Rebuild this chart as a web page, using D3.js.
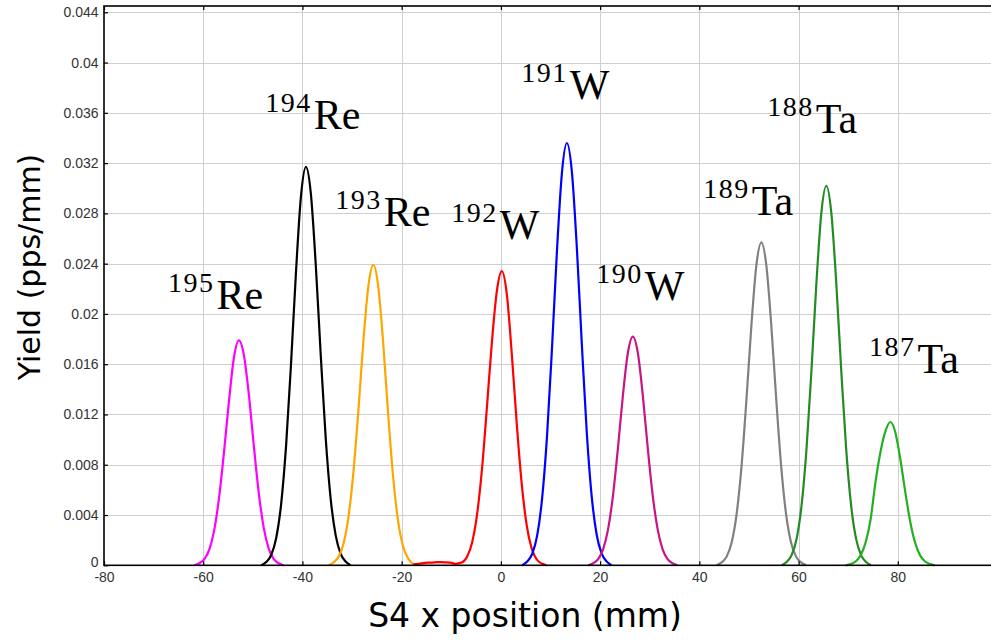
<!DOCTYPE html>
<html>
<head>
<meta charset="utf-8">
<script src="https://cdn.jsdelivr.net/npm/d3@7"></script>
<style>
  html, body { margin: 0; padding: 0; background: #fff; }
  svg { display: block; }
</style>
</head>
<body>
<script>
// ---- axis ticks ----
const xTickValues = [-80, -60, -40, -20, 0, 20, 40, 60, 80];
const xTickLabels = ["-80", "-60", "-40", "-20", "0", "20", "40", "60", "80"];
const yTickValues = [0, 0.004, 0.008, 0.012, 0.016, 0.02, 0.024, 0.028, 0.032, 0.036, 0.04, 0.044];
const yTickLabels = ["0", "0.004", "0.008", "0.012", "0.016", "0.02", "0.024", "0.028", "0.032", "0.036", "0.04", "0.044"];

// ---- isotope labels (mass number + element) and their anchors in data units ----
const massNumbers = ["195", "194", "193", "192", "191", "190", "189", "188", "187"];
const elementSymbols = ["Re", "Re", "Re", "W", "W", "W", "Ta", "Ta", "Ta"];
const labelAnchorX = [-67.1, -47.5, -33.4, -10.0, 4.1, 19.2, 40.8, 53.7, 74.2];
const labelAnchorY = [0.0204, 0.0347, 0.0270, 0.0260, 0.0371, 0.0211, 0.0279, 0.0344, 0.0153];

// ---- yield distributions along the S4 x position ----
const re195X = [-61.8, -60.8, -59.8, -58.8, -57.8, -56.8, -55.8, -54.8, -53.8, -52.8, -51.8, -50.8, -49.8, -48.8, -47.8, -46.8, -45.8, -44.8, -43.8];
const re195Y = [0, 0.00016, 0.00047, 0.00122, 0.00276, 0.00541, 0.00905, 0.0131, 0.01655, 0.0179, 0.01672, 0.01358, 0.00952, 0.00574, 0.00298, 0.00133, 0.00051, 0.00016, 0];

const re194X = [-48.3, -47.3, -46.3, -45.3, -44.3, -43.3, -42.3, -41.3, -40.3, -39.3, -38.3, -37.3, -36.3, -35.3, -34.3, -33.3, -32.3, -31.3, -30.3];
const re194Y = [0, 0.00026, 0.00082, 0.00215, 0.00485, 0.0095, 0.01605, 0.02335, 0.02935, 0.0317, 0.02955, 0.0238, 0.01665, 0.01005, 0.00525, 0.00238, 0.00092, 0.0003, 0];

const re193X = [-34.7, -33.7, -32.7, -31.7, -30.7, -29.7, -28.7, -27.7, -26.7, -25.7, -24.7, -23.7, -22.7, -21.7, -20.7, -19.7, -18.7, -17.7];
const re193Y = [0, 0.00024, 0.00069, 0.00176, 0.00392, 0.00752, 0.01245, 0.01792, 0.02225, 0.0239, 0.02212, 0.01755, 0.0119, 0.00695, 0.00345, 0.00148, 0.00055, 0.00008];

const w192X = [-17.7, -16.5, -15.3, -14.0, -12.8, -11.5, -10.2, -9.2, -7.8, -6.8, -5.8, -4.8, -3.8, -2.8, -1.8, -0.8, 0.2, 1.2, 2.2, 3.2, 4.2, 5.2, 6.2, 7.2, 8.2, 9.2];
const w192Y = [0.00008, 0.00012, 0.0002, 0.00022, 0.00026, 0.00024, 0.00022, 0.00012, 0.00024, 0.0007, 0.00182, 0.00405, 0.0077, 0.01265, 0.01782, 0.02185, 0.0234, 0.02155, 0.0168, 0.01125, 0.00648, 0.0032, 0.00135, 0.00048, 0.00014, 0];

const w191X = [4.3, 5.3, 6.3, 7.3, 8.3, 9.3, 10.3, 11.3, 12.3, 13.3, 14.3, 15.3, 16.3, 17.3, 18.3, 19.3, 20.3, 21.3, 22.3];
const w191Y = [0, 0.0003, 0.0009, 0.00234, 0.00528, 0.01028, 0.01727, 0.025, 0.03121, 0.0336, 0.03135, 0.02535, 0.0177, 0.01065, 0.0055, 0.00245, 0.00094, 0.00031, 0];

const w190X = [17.6, 18.6, 19.6, 20.6, 21.6, 22.6, 23.6, 24.6, 25.6, 26.6, 27.6, 28.6, 29.6, 30.6, 31.6, 32.6, 33.6, 34.6, 35.6];
const w190Y = [0, 0.00016, 0.00049, 0.00127, 0.00286, 0.00557, 0.00935, 0.01354, 0.01691, 0.0182, 0.01691, 0.01354, 0.00935, 0.00557, 0.00286, 0.00127, 0.00049, 0.00016, 0];

const ta189X = [43.5, 44.5, 45.5, 46.5, 47.5, 48.5, 49.5, 50.5, 51.5, 52.5, 53.5, 54.5, 55.5, 56.5, 57.5, 58.5, 59.5, 60.5, 61.5];
const ta189Y = [0, 0.00023, 0.00069, 0.00179, 0.00403, 0.00786, 0.01321, 0.01912, 0.02388, 0.0257, 0.02388, 0.01912, 0.01321, 0.00786, 0.00403, 0.00179, 0.00069, 0.00023, 0];

const ta188X = [56.6, 57.6, 58.6, 59.6, 60.6, 61.6, 62.6, 63.6, 64.6, 65.6, 66.6, 67.6, 68.6, 69.6, 70.6, 71.6, 72.6, 73.6, 74.6];
const ta188Y = [0, 0.00027, 0.00081, 0.0021, 0.00474, 0.00924, 0.01552, 0.02247, 0.02806, 0.0302, 0.02806, 0.02247, 0.01552, 0.00924, 0.00474, 0.0021, 0.00081, 0.00027, 0];

const ta187X = [69.5, 70.5, 71.5, 72.5, 73.5, 74.5, 75.5, 76.5, 77.5, 78.5, 79.5, 80.5, 81.5, 82.5, 83.5, 84.5, 85.5, 86.5, 87.5];
const ta187Y = [0, 0.0001, 0.0003, 0.00079, 0.00179, 0.0036, 0.0066, 0.009, 0.01065, 0.0114, 0.01059, 0.00848, 0.00586, 0.00349, 0.00179, 0.00079, 0.0003, 0.0001, 0];

// line colour per isotope, same order as the labels
const seriesColors = ["#ff00ff", "#000000", "#ffa500", "#ff0000", "#0000ff", "#c71585", "#808080", "#228b22", "#22b01e"];

const seriesX = [re195X, re194X, re193X, w192X, w191X, w190X, ta189X, ta188X, ta187X];
const seriesY = [re195Y, re194Y, re193Y, w192Y, w191Y, w190Y, ta189Y, ta188Y, ta187Y];

// ---- layout ----
const width = 991, height = 641;
const plot = { left: 104, right: 997, top: 6, bottom: 565.3 };

const svg = d3.select("body").append("svg")
  .attr("width", width).attr("height", height)
  .attr("viewBox", `0 0 ${width} ${height}`);

const x = d3.scaleLinear().domain([-80, 100]).range([plot.left, plot.right]);
const y = d3.scaleLinear().domain([0, 0.0445]).range([plot.bottom, plot.top]);

// grid
const grid = svg.append("g").attr("stroke", "#cfcfcf").attr("stroke-width", 1);
grid.selectAll("line.v").data(xTickValues.filter(v => v > -80)).join("line")
  .attr("class", "v")
  .attr("x1", d => Math.round(x(d)) + 0.5).attr("x2", d => Math.round(x(d)) + 0.5)
  .attr("y1", plot.top).attr("y2", plot.bottom);
grid.selectAll("line.h").data(yTickValues.filter(v => v > 0)).join("line")
  .attr("class", "h")
  .attr("x1", plot.left).attr("x2", plot.right)
  .attr("y1", d => Math.round(y(d)) + 0.5).attr("y2", d => Math.round(y(d)) + 0.5);

// yield curves
const line = d3.line()
  .x(d => x(d[0]))
  .y(d => y(d[1]))
  .curve(d3.curveMonotoneX);

svg.append("g").selectAll("path")
  .data(seriesX.map((xs, i) => xs.map((v, j) => [v, seriesY[i][j]])))
  .join("path")
  .attr("fill", "none")
  .attr("stroke", (d, i) => seriesColors[i])
  .attr("stroke-width", 2.2)
  .attr("stroke-linejoin", "round")
  .attr("d", line);

// axes with inward ticks
const tickFont = "'Liberation Sans', Arial, sans-serif";

const xAxis = svg.append("g").attr("transform", `translate(0,${plot.bottom})`)
  .call(d3.axisBottom(x).tickValues(xTickValues).tickFormat((d, i) => xTickLabels[i])
    .tickSizeInner(-4).tickSizeOuter(0).tickPadding(7));
const yAxis = svg.append("g").attr("transform", `translate(${plot.left},0)`)
  .call(d3.axisLeft(y).tickValues(yTickValues).tickFormat((d, i) => yTickLabels[i])
    .tickSizeInner(-4).tickSizeOuter(0).tickPadding(5.5));
const topAxis = svg.append("g").attr("transform", `translate(0,${plot.top})`)
  .call(d3.axisTop(x).tickValues(xTickValues).tickFormat("").tickSizeInner(-4).tickSizeOuter(0));
const rightAxis = svg.append("g").attr("transform", `translate(${plot.right},0)`)
  .call(d3.axisRight(y).tickValues(yTickValues).tickFormat("").tickSizeInner(-4).tickSizeOuter(0));

[xAxis, yAxis, topAxis, rightAxis].forEach(a => {
  a.select(".domain").remove();
  a.selectAll(".tick line").attr("stroke", "#000").attr("stroke-width", 1.2);
  a.selectAll(".tick text")
    .attr("fill", "#333")
    .style("font-family", tickFont)
    .style("font-size", "14px");
});
// the zero label sits just above the x-axis corner
yAxis.selectAll(".tick text").filter(d => d === 0).attr("dy", "0.1em");

// frame
svg.append("rect")
  .attr("x", plot.left).attr("y", plot.top)
  .attr("width", plot.right - plot.left).attr("height", plot.bottom - plot.top)
  .attr("fill", "none").attr("stroke", "#000").attr("stroke-width", 1.6);

// isotope labels: superscript mass number followed by element symbol
const serif = "'Liberation Serif', 'DejaVu Serif', serif";
const labels = svg.append("g").attr("fill", "#000").style("font-family", serif);
massNumbers.forEach((m, i) => {
  const t = labels.append("text")
    .attr("x", x(labelAnchorX[i]))
    .attr("y", y(labelAnchorY[i]));
  t.append("tspan").attr("font-size", 28).attr("letter-spacing", 1.5).attr("dy", -17).text(m);
  t.append("tspan").attr("font-size", 42).attr("letter-spacing", 0).attr("dy", 17).attr("dx", 2).text(elementSymbols[i]);
});

// axis titles
const sans = "'DejaVu Sans', Verdana, sans-serif";
svg.append("text")
  .attr("x", 525).attr("y", 627)
  .attr("text-anchor", "middle")
  .style("font-family", sans).style("font-size", "33px")
  .text("S4 x position (mm)");

svg.append("text")
  .attr("transform", "translate(40,267) rotate(-90)")
  .attr("text-anchor", "middle")
  .style("font-family", sans).style("font-size", "30px")
  .text("Yield (pps/mm)");
</script>
</body>
</html>
